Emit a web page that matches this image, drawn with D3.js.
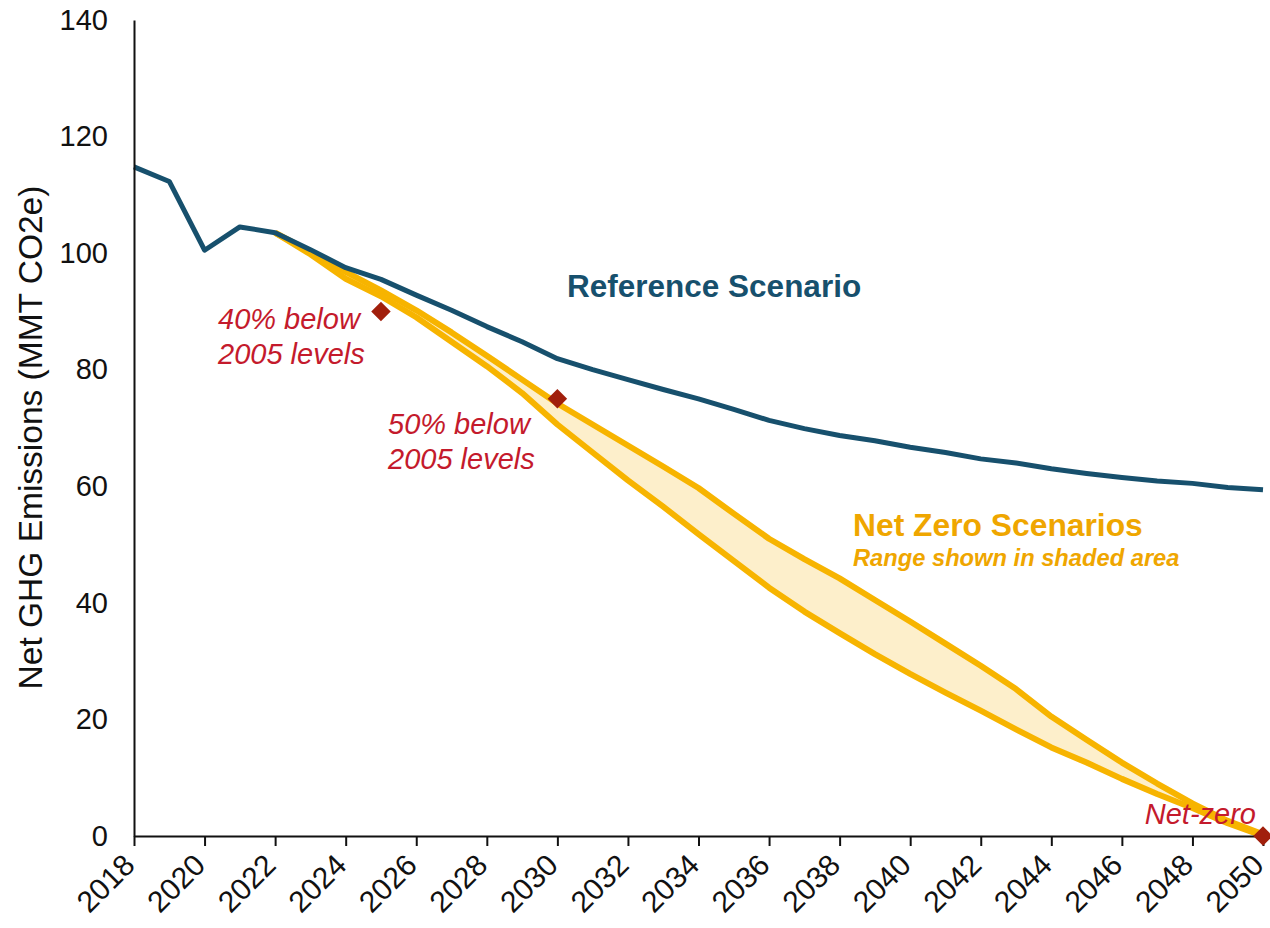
<!DOCTYPE html>
<html>
<head>
<meta charset="utf-8">
<script src="https://cdn.jsdelivr.net/npm/d3@7"></script>
<style>
  html, body { margin: 0; padding: 0; background: #ffffff; }
  svg { display: block; font-family: "Liberation Sans", Arial, sans-serif; }
</style>
</head>
<body>
<svg id="chart" width="1270" height="928"></svg>
<script>
// Reference scenario, net GHG emissions (MMT CO2e), 2018-2050
const refYears = d3.range(2018, 2051);
const refValues = [
  114.8, 112.3, 100.5, 104.5, 103.5, 100.6, 97.5, 95.5, 92.8, 90.2,
  87.4, 84.8, 81.9, 80.0, 78.3, 76.6, 75.0, 73.2, 71.3, 69.9,
  68.7, 67.8, 66.7, 65.8, 64.7, 64.0, 63.0, 62.2, 61.5, 60.9,
  60.5, 59.8, 59.4
];

// Net zero scenarios: upper and lower bounds of the range, 2022-2050
const nzYears = d3.range(2022, 2051);
const nzUpper = [
  103.5, 100.2, 96.8, 93.6, 90.2, 86.4, 82.4, 78.3, 74.2, 70.6,
  67.0, 63.4, 59.7, 55.3, 51.0, 47.5, 44.2, 40.5, 36.8, 33.0,
  29.2, 25.2, 20.5, 16.5, 12.6, 9.0, 5.6, 2.6, 0.3
];
const nzLower = [
  103.5, 99.8, 95.6, 92.6, 89.0, 84.8, 80.6, 76.0, 70.6, 65.8,
  61.0, 56.5, 51.8, 47.2, 42.6, 38.5, 34.8, 31.2, 27.8, 24.6,
  21.5, 18.3, 15.2, 12.6, 9.8, 7.2, 4.8, 2.2, 0.0
];

// Target milestones (40% and 50% below 2005 levels, then net-zero)
const milestoneYears = [2025, 2030, 2050];
const milestoneValues = [90, 75, 0];

// Axis ticks
const xTicks = d3.range(2018, 2051, 2);
const yTicks = [0, 20, 40, 60, 80, 100, 120, 140];

const svg = d3.select("#chart");

const x = d3.scaleLinear().domain([2018, 2050]).range([134, 1263]);
const y = d3.scaleLinear().domain([0, 140]).range([836, 20]);

const refData = refYears.map((yr, i) => ({ year: yr, value: refValues[i] }));
const nzData = nzYears.map((yr, i) => ({ year: yr, hi: nzUpper[i], lo: nzLower[i] }));
const milestones = milestoneYears.map((yr, i) => ({ year: yr, value: milestoneValues[i] }));

// Shaded range between the net zero bounds
svg.append("path")
  .datum(nzData)
  .attr("fill", "#fdefcb")
  .attr("d", d3.area()
    .x(d => x(d.year))
    .y0(d => y(d.lo))
    .y1(d => y(d.hi)));

// Net zero boundary lines
["hi", "lo"].forEach(key => {
  svg.append("path")
    .datum(nzData)
    .attr("fill", "none")
    .attr("stroke", "#f7b400")
    .attr("stroke-width", 6)
    .attr("stroke-linejoin", "round")
    .attr("d", d3.line().x(d => x(d.year)).y(d => y(d[key])));
});

// Reference scenario line
svg.append("path")
  .datum(refData)
  .attr("fill", "none")
  .attr("stroke", "#17506d")
  .attr("stroke-width", 5)
  .attr("stroke-linejoin", "round")
  .attr("d", d3.line().x(d => x(d.year)).y(d => y(d.value)));

// Axes
const xAxis = svg.append("g")
  .attr("transform", `translate(0,${y(0)})`)
  .call(d3.axisBottom(x).tickValues(xTicks).tickFormat(d3.format("d")).tickSize(10).tickSizeOuter(0));
xAxis.select(".domain").attr("stroke", "#111").attr("stroke-width", 2);
xAxis.selectAll(".tick line").attr("stroke", "#111").attr("stroke-width", 2);
xAxis.selectAll(".tick text")
  .attr("x", 0).attr("y", 0).attr("dy", 0)
  .attr("text-anchor", "end")
  .attr("transform", "translate(2,31) rotate(-45)")
  .attr("font-size", 30)
  .attr("font-family", "Liberation Sans, Arial, sans-serif")
  .attr("fill", "#111");

const yAxis = svg.append("g")
  .attr("transform", `translate(${x(2018)},0)`)
  .call(d3.axisLeft(y).tickValues(yTicks).tickSize(0).tickPadding(26).tickSizeOuter(0));
yAxis.select(".domain").attr("stroke", "#111").attr("stroke-width", 2);
yAxis.selectAll(".tick text")
  .attr("font-size", 29)
  .attr("font-family", "Liberation Sans, Arial, sans-serif")
  .attr("fill", "#111");

// Y axis title
svg.append("text")
  .attr("transform", `translate(42,${(185 + 690) / 2}) rotate(-90)`)
  .attr("text-anchor", "middle")
  .attr("font-size", 33.5)
  .attr("fill", "#111")
  .text("Net GHG Emissions (MMT CO2e)");

// Milestone diamonds
svg.selectAll(".milestone")
  .data(milestones)
  .join("path")
  .attr("class", "milestone")
  .attr("fill", "#a11f0c")
  .attr("transform", d => `translate(${x(d.year)},${y(d.value)}) rotate(45)`)
  .attr("d", d3.symbol(d3.symbolSquare, 190)());

// Annotations
const red = "#c41a2c";
const gold = "#efa600";
const navy = "#17506d";

svg.append("text")
  .attr("x", 567).attr("y", 297)
  .attr("font-size", 31.5).attr("font-weight", "bold").attr("fill", navy)
  .text("Reference Scenario");

function italicLines(x0, y0, lines) {
  lines.forEach((t, i) => {
    svg.append("text")
      .attr("x", x0).attr("y", y0 + i * 35)
      .attr("font-size", 29).attr("font-style", "italic").attr("fill", red)
      .text(t);
  });
}
italicLines(218, 329, ["40% below", "2005 levels"]);
italicLines(388, 434, ["50% below", "2005 levels"]);

svg.append("text")
  .attr("x", 1256).attr("y", 824)
  .attr("text-anchor", "end")
  .attr("font-size", 29).attr("font-style", "italic").attr("fill", red)
  .text("Net-zero");

svg.append("text")
  .attr("x", 853).attr("y", 536)
  .attr("font-size", 31.8).attr("font-weight", "bold").attr("fill", gold)
  .text("Net Zero Scenarios");

svg.append("text")
  .attr("x", 853).attr("y", 566)
  .attr("font-size", 23.7).attr("font-weight", "bold").attr("font-style", "italic").attr("fill", gold)
  .text("Range shown in shaded area");
</script>
</body>
</html>
